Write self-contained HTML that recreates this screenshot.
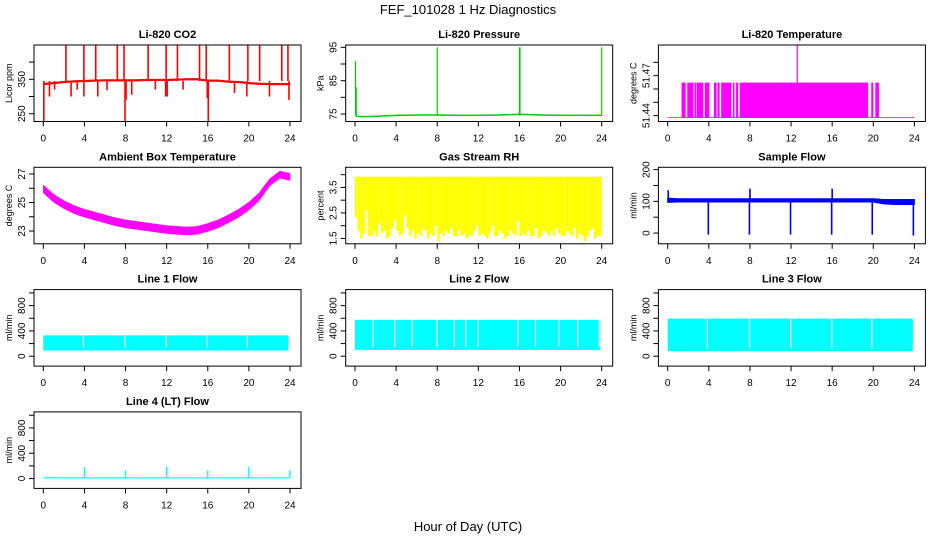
<!DOCTYPE html>
<html><head><meta charset="utf-8"><style>
html,body{margin:0;padding:0;background:#fff;}
svg{display:block;font-family:"Liberation Sans",Arial,sans-serif;}
</style></head><body>
<svg id="chart" width="936" height="540" viewBox="0 0 936 540">
<text x="468" y="14" text-anchor="middle" font-size="13">FEF_101028  1 Hz Diagnostics</text>
<text x="468" y="531" text-anchor="middle" font-size="13">Hour of Day (UTC)</text>
</svg>
<script>
// ---------- data ----------
const xTicks = [0,4,8,12,16,20,24];
const hours = [0,1,2,3,4,5,6,7,8,9,10,11,12,13,14,15,16,17,18,19,20,21,22,23,24];

// CO2
const co2Base = [336,339,342,344,345,346,347,347,347,347,348,348,348,349,350,350,346,346,343,342,339,337,336,336,336];
const co2UpTimes = [2.2,3.95,5.1,7.2,7.85,10.2,11.95,13.05,15.2,15.85,18.1,19.9,21.05,23.2,23.8];
const co2UpVals = [450,450,450,450,450,450,450,450,450,450,450,450,450,450,450];
const co2DownTimes = [0.05,0.6,1.1,2.7,3.3,3.95,5.3,6.2,7.95,8.05,8.6,10.9,11.9,12.05,13.6,15.95,16.05,18.6,19.8,22.0,23.9];
const co2DownVals = [228,300,320,300,320,300,300,318,228,290,305,320,300,300,320,295,228,310,300,300,290];

// Pressure
const presTimes = [0.1,1,2,4,6,8,10,12,14,16,18,20,22,24];
const presVals = [74.3,74.2,74.3,74.6,74.7,74.7,74.6,74.6,74.7,74.9,74.7,74.6,74.6,74.6];
const presSpikeTimes = [0.05,0.12,8.0,16.0,16.05,24.0];
const presSpikeVals = [91,83,95,95,95,95];

// Li-820 temperature
const tempBase = 51.4385;
const tempBlockStart = [1.35,1.9,2.6,2.8,3.6,4.5,4.85,5.2,6.35,6.65,7.0,19.8,20.2];
const tempBlockEnd = [1.75,2.5,2.75,3.45,4.05,4.75,5.05,6.2,6.5,6.85,19.5,20.0,20.55];
const tempBlockVal = 51.4648;
const tempSpikeTime = [12.6];
const tempSpikeVal = [51.493];

// Ambient box temperature
const ambCenter = [25.95,25.3,24.85,24.5,24.25,24.05,23.85,23.65,23.5,23.4,23.3,23.2,23.1,23.05,23.0,23.05,23.25,23.5,23.85,24.25,24.75,25.4,26.4,26.95,26.8];
const ambHalf = [0.28,0.28,0.28,0.28,0.28,0.28,0.28,0.28,0.28,0.28,0.28,0.28,0.28,0.28,0.28,0.28,0.28,0.28,0.28,0.28,0.28,0.28,0.25,0.25,0.25];

// Gas stream RH (quarter-hour lows)
const rhHigh = 3.92;
const rhLows = [2.3,1.8,1.5,1.7,2.6,1.6,1.6,1.8,1.6,2.1,1.7,1.8,1.5,1.6,1.9,2.2,1.8,1.6,1.7,2.4,1.9,1.6,1.8,1.5,1.7,
 1.6,1.9,1.8,1.5,1.7,1.6,2.0,1.4,1.7,1.6,1.8,1.7,1.9,1.6,1.6,1.8,1.6,1.7,1.5,1.6,1.6,1.8,2.0,
 1.6,1.7,1.6,1.5,1.7,2.0,1.6,1.6,1.8,1.7,1.5,1.6,1.8,1.7,1.6,2.2,1.6,1.7,1.6,1.8,1.6,1.6,1.9,1.5,
 1.6,1.8,1.7,1.6,1.8,1.6,1.9,1.7,1.6,1.6,1.8,1.7,1.6,1.9,1.5,1.7,1.6,1.4,1.6,1.8,1.9,1.5,1.6,1.6,2.4];

// Sample flow
const sfLow = [97,98,98,98,98,98,98,98,98,98,98,98,98,98,98,98,98,98,98,98,98,92,90,90,90];
const sfHigh = [110,108,108,108,108,108,108,108,108,108,108,108,108,108,108,108,108,108,108,108,108,106,106,106,106];
const sfDipTimes = [3.95,7.95,11.95,15.95,19.9,23.9];
const sfDipVals = [-5,-5,-5,-5,-5,-8];
const sfUpTimes = [0.05,8.0,16.0];
const sfUpVals = [135,140,140];

// Line flows
const l1Low = 90, l1High = 330;
const l1Gaps = [3.85,7.9,11.9,15.9,19.8];
const l2Low = 100, l2High = 575;
const l2Gaps = [1.7,3.8,5.5,7.9,9.6,10.7,11.9,15.8,17.5,19.8,21.6,23.7];
const l3Low = 80, l3High = 595;
const l3Gaps = [3.8,7.9,11.9,15.9,19.8];
const l4Low = 0, l4High = 20;
const l4SpikeTimes = [4,8,12,16,20,24];
const l4SpikeVals = [180,130,190,130,190,130];

// ---------- layout ----------
const NS = "http://www.w3.org/2000/svg";
const svg = document.getElementById('chart');
const colX0 = [43.3,355.0,667.7];
const rowTop = [45,167.3,289.6,411.9];
const BOXH = 76.5, HOURW = 246.7/24;

function el(tag, attrs, parent){
  const e = document.createElementNS(NS, tag);
  for (const k in attrs) e.setAttribute(k, attrs[k]);
  (parent||svg).appendChild(e);
  return e;
}

function panel(col,row,title,ylab,ymin,ymax,yTicks,yLabels,name){
  const g = el('g',{});
  
  
  const x0 = colX0[col], top = rowTop[row], bot = top+BOXH;
  const left = x0-9.3, right = x0+257.7;
  const P = {g, x:t=>x0+t*HOURW, y:v=>bot-(v-ymin)/(ymax-ymin)*BOXH, top, bot, left, right};
  const marks = el('g',{},g);
  
  
  P.m = marks;
  P.finish = function(){
    el('rect',{x:left,y:top,width:right-left,height:BOXH,fill:'none',stroke:'#000','stroke-width':1},g);
    const t = el('text',{x:(left+right)/2,y:top-7,'text-anchor':'middle','font-size':11,'font-weight':'bold'},g);
    t.textContent = title;
    
    
    xTicks.forEach(v=>{
      const xx = P.x(v);
      el('line',{x1:xx,x2:xx,y1:bot,y2:bot+5,stroke:'#000'},g);
      const tl = el('text',{x:xx,y:bot+20,'text-anchor':'middle','font-size':10},g);
      tl.textContent = v;
      
      
    });
    yTicks.forEach(v=>{
      const yy = P.y(v);
      el('line',{x1:left-5,x2:left,y1:yy,y2:yy,stroke:'#000'},g);
    });
    yLabels.forEach(v=>{
      const yy = P.y(v);
      const tl = el('text',{x:0,y:0,'text-anchor':'middle','font-size':10,transform:`translate(${left-9},${yy}) rotate(-90)`},g);
      tl.textContent = v;
      
      
    });
    const yl = el('text',{x:0,y:0,'text-anchor':'middle','font-size':9,transform:`translate(${left-22},${(top+bot)/2}) rotate(-90)`},g);
    yl.textContent = ylab;
    
    
  };
  return P;
}
function vline(P,t,v1,v2,color,w){
  const y1 = Math.max(P.top,Math.min(P.bot,P.y(v1))), y2 = Math.max(P.top,Math.min(P.bot,P.y(v2)));
  el('line',{x1:P.x(t),x2:P.x(t),y1:y1,y2:y2,stroke:color,'stroke-width':w||1.3},P.m);
}
function bandPoly(P,ts,lo,hi,color,sw){
  let pts = [];
  ts.forEach((t,i)=>pts.push(P.x(t)+','+P.y(hi[i])));
  for(let i=ts.length-1;i>=0;i--) pts.push(P.x(ts[i])+','+P.y(lo[i]));
  el('polygon',{points:pts.join(' '),fill:color,stroke:color,'stroke-width':sw==null?1:sw},P.m);
}
function rectBand(P,t1,t2,lo,hi,color){
  el('rect',{x:P.x(t1),y:P.y(hi),width:P.x(t2)-P.x(t1),height:P.y(lo)-P.y(hi),fill:color},P.m);
}

// CO2
let P = panel(0,0,'Li-820 CO2','Licor ppm',227.3,449.7,[250,300,350,400],[250,350],'co2');
const red='#ff0000';
bandPoly(P,hours,co2Base.map(v=>v-2.5),co2Base.map(v=>v+2.5),red,0.5);
co2UpTimes.forEach((t,i)=>vline(P,t,345,co2UpVals[i],red,1.6));
co2DownTimes.forEach((t,i)=>vline(P,t,345,co2DownVals[i],red,1.6));
P.finish();

// Pressure
P = panel(1,0,'Li-820 Pressure','kPa',72.75,95.7,[75,80,85,90,95],[75,85,95],'pressure');
const grn='#00cd00';
bandPoly(P,presTimes,presVals.map(v=>v-0.15),presVals.map(v=>v+0.15),grn,0.5);
presSpikeTimes.forEach((t,i)=>vline(P,t,74.5,presSpikeVals[i],grn,1.2));
P.finish();

// Li-820 Temperature
P = panel(2,0,'Li-820 Temperature','degrees C',51.4356,51.493,[51.44,51.45,51.46,51.47,51.48],[51.44,51.47],'li820-temp');
const mag='#ff00ff';
rectBand(P,0,24,tempBase-0.0003,tempBase+0.0003,mag);
tempBlockStart.forEach((s,i)=>rectBand(P,s,tempBlockEnd[i],tempBase,tempBlockVal,mag));
tempSpikeTime.forEach((t,i)=>vline(P,t,tempBlockVal,tempSpikeVal[i],mag,1.2));
P.finish();

// Ambient
P = panel(0,1,'Ambient Box Temperature','degrees C',22.103,27.471,[23,24,25,26,27],[23,25,27],'ambient-temp');
bandPoly(P,hours,ambCenter.map((v,i)=>v-ambHalf[i]),ambCenter.map((v,i)=>v+ambHalf[i]),mag,0.5);
P.finish();

// Gas RH
P = panel(1,1,'Gas Stream RH','percent',1.29,4.289,[1.5,2,2.5,3,3.5,4],[1.5,2.5,3.5],'gas-rh');
const yel='#ffff00';
rhLows.forEach((lo,i)=>{ const t=i*0.25; rectBand(P,t,Math.min(24,t+0.25),lo,rhHigh,yel); });
P.finish();

// Sample flow
P = panel(2,1,'Sample Flow','ml/min',-33.8,207.3,[0,50,100,150,200],[0,100,200],'sample-flow');
const blu='#0000ff';
bandPoly(P,hours,sfLow,sfHigh,blu);
sfDipTimes.forEach((t,i)=>vline(P,t,100,sfDipVals[i],blu,1.6));
sfUpTimes.forEach((t,i)=>vline(P,t,100,sfUpVals[i],blu,1.6));
P.finish();

const cy='#00ffff';
function lineFlow(col,row,title,lo,hi,gaps,name){
  const Q = panel(col,row,title,'ml/min',-156,1053,[0,200,400,600,800,1000],[0,400,800],name);
  rectBand(Q,0,23.85,lo,hi,cy);
  gaps.forEach(t=>el('rect',{x:Q.x(t),y:Q.y(hi)-1,width:1.2,height:Q.y(lo)-Q.y(hi)-2,fill:'#fff'},Q.m));
  return Q;
}
P = lineFlow(0,2,'Line 1 Flow',l1Low,l1High,l1Gaps,'line1-flow'); P.finish();
P = lineFlow(1,2,'Line 2 Flow',l2Low,l2High,l2Gaps,'line2-flow'); P.finish();
P = lineFlow(2,2,'Line 3 Flow',l3Low,l3High,l3Gaps,'line3-flow'); P.finish();

P = panel(0,3,'Line 4 (LT) Flow','ml/min',-156,1053,[0,200,400,600,800,1000],[0,400,800],'line4-flow');
rectBand(P,0,24,l4Low,l4High,cy);
l4SpikeTimes.forEach((t,i)=>vline(P,t,l4High,l4SpikeVals[i],cy,1.4));
P.finish();
</script>
</body></html>
